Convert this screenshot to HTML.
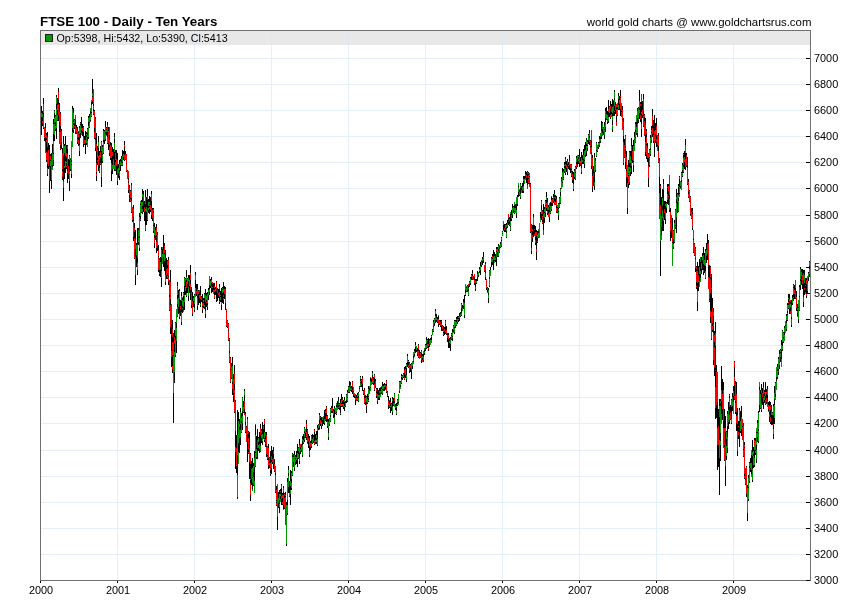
<!DOCTYPE html>
<html><head><meta charset="utf-8"><title>FTSE 100 - Daily - Ten Years</title>
<style>
html,body{margin:0;padding:0;background:#fff;}
body{width:850px;height:616px;position:relative;overflow:hidden;font-family:"Liberation Sans",Arial,sans-serif;color:#000;}
svg{position:absolute;left:0;top:0;display:block;}
.t{position:absolute;white-space:nowrap;}
#title{left:40px;top:13.6px;font-size:13.33px;font-weight:bold;line-height:15px;}
#src{right:38.6px;top:16px;font-size:11.42px;line-height:13px;}
#leg{left:56.5px;top:32px;font-size:10.7px;line-height:12px;}
.yl{position:absolute;left:814px;font-size:10.9px;line-height:14px;height:14px;}
.xl{position:absolute;top:583px;width:41px;text-align:center;font-size:10.9px;line-height:14px;}
</style></head><body>
<svg width="850" height="616" viewBox="0 0 850 616" shape-rendering="crispEdges">
<rect x="41" y="31" width="769" height="14" fill="#e8e8e8"/>
<path d="M41 554.5H806M41 528.5H806M41 502.5H806M41 476.5H806M41 450.5H806M41 423.5H806M41 397.5H806M41 371.5H806M41 345.5H806M41 319.5H806M41 293.5H806M41 267.5H806M41 241.5H806M41 215.5H806M41 188.5H806M41 162.5H806M41 136.5H806M41 110.5H806M41 84.5H806M41 58.5H806M117.5 45V580M194.5 45V580M271.5 45V580M348.5 45V580M425.5 45V580M502.5 45V580M579.5 45V580M656.5 45V580M733.5 45V580" stroke="#e3f0f9" stroke-width="1" fill="none"/>
<path d="M117.5 31V45M194.5 31V45M271.5 31V45M348.5 31V45M425.5 31V45M502.5 31V45M579.5 31V45M656.5 31V45M733.5 31V45" stroke="#e1e8ed" stroke-width="1" fill="none"/>
<path d="M41.5 106V113M41.5 117V135M42.5 111V114M42.5 117V121M42.5 123V126M43.5 98V104M43.5 113V117M43.5 128V129M44.5 138V141M45.5 123V128M45.5 137V142M46.5 133V135M46.5 138V140M46.5 142V152M46.5 160V162M47.5 132V137M47.5 147V153M47.5 164V168M47.5 174V176M48.5 143V150M48.5 166V169M49.5 145V167M49.5 181V193M50.5 154V156M50.5 160V161M50.5 166V181M51.5 153V159M51.5 180V189M52.5 144V153M52.5 165V167M53.5 119V124M53.5 134V141M53.5 153V154M53.5 160V166M54.5 110V111M54.5 113V118M54.5 123V124M54.5 135V141M55.5 115V116M55.5 122V126M55.5 129V131M56.5 95V97M56.5 104V109M56.5 128V139M57.5 98V105M57.5 110V115M57.5 120V121M58.5 88V92M58.5 100V104M58.5 115V121M59.5 103V112M59.5 122V132M60.5 112V114M60.5 126V130M60.5 131V132M60.5 145V148M60.5 149V150M61.5 129V131M61.5 142V149M62.5 148V153M62.5 169V171M62.5 177V180M63.5 136V144M63.5 156V181M63.5 188V201M64.5 144V146M64.5 153V166M64.5 168V179M65.5 136V145M65.5 156V161M65.5 167V173M66.5 145V153M66.5 157V162M66.5 163V166M66.5 167V169M67.5 145V146M67.5 149V154M67.5 166V171M67.5 173V183M68.5 159V166M68.5 174V179M69.5 155V156M69.5 160V172M69.5 181V191M70.5 159V160M70.5 169V171M71.5 160V162M71.5 164V165M71.5 174V178M72.5 106V109M72.5 128V132M73.5 108V113M73.5 120V122M73.5 123V125M73.5 130V133M74.5 119V120M74.5 123V126M74.5 127V129M75.5 120V126M75.5 132V134M76.5 125V128M76.5 133V134M77.5 127V131M77.5 138V139M77.5 142V144M78.5 132V133M78.5 137V140M78.5 144V146M79.5 126V128M79.5 134V145M79.5 151V156M80.5 122V123M80.5 124V125M80.5 133V138M81.5 117V128M81.5 130V133M82.5 124V128M82.5 131V136M83.5 126V127M83.5 132V137M83.5 144V147M84.5 136V140M84.5 144V145M85.5 131V140M85.5 143V154M86.5 132V134M86.5 135V137M86.5 143V145M87.5 128V129M87.5 133V135M87.5 137V141M88.5 116V118M88.5 122V126M88.5 137V139M89.5 114V117M89.5 122V123M89.5 127V128M90.5 111V114M90.5 120V121M91.5 102V105M91.5 112V113M91.5 116V117M92.5 79V93M92.5 96V97M92.5 101V104M93.5 104V106M93.5 109V111M93.5 114V115M94.5 110V111M94.5 128V132M94.5 138V139M95.5 117V119M95.5 138V140M95.5 148V151M96.5 133V144M96.5 151V163M96.5 172V174M96.5 176V181M97.5 146V150M97.5 158V160M97.5 162V165M98.5 136V142M98.5 148V156M98.5 165V171M99.5 151V155M99.5 157V158M99.5 161V168M99.5 172V173M100.5 146V152M100.5 157V163M100.5 164V165M101.5 141V142M101.5 151V163M101.5 177V187M102.5 145V147M102.5 154V155M102.5 161V163M103.5 129V131M103.5 140V142M103.5 153V154M104.5 130V131M104.5 140V144M105.5 121V127M105.5 132V134M105.5 139V141M106.5 127V128M106.5 129V130M106.5 132V135M107.5 122V125M107.5 132V137M107.5 143V144M108.5 127V131M108.5 141V142M108.5 143V150M109.5 135V140M109.5 145V147M109.5 153V156M110.5 142V145M110.5 158V160M111.5 143V147M111.5 158V163M111.5 171V181M112.5 147V152M112.5 156V165M112.5 169V174M113.5 149V159M114.5 133V137M114.5 139V143M114.5 152V165M114.5 169V171M115.5 150V153M115.5 160V162M115.5 170V171M116.5 150V159M116.5 166V175M117.5 153V160M117.5 164V169M117.5 181V185M118.5 164V168M118.5 173V178M119.5 160V164M119.5 170V172M119.5 176V180M120.5 159V161M120.5 165V171M121.5 156V159M121.5 160V163M121.5 165V166M122.5 150V156M122.5 162V163M122.5 165V166M123.5 151V154M123.5 157V160M124.5 141V145M124.5 147V155M124.5 160V161M125.5 151V154M125.5 159V160M126.5 163V164M126.5 171V172M127.5 170V171M128.5 178V180M128.5 181V183M128.5 190V193M129.5 185V188M129.5 195V198M129.5 199V202M130.5 190V191M130.5 198V199M130.5 201V202M131.5 183V185M131.5 198V201M131.5 212V213M132.5 220V222M133.5 205V209M133.5 217V221M133.5 237V241M134.5 223V228M134.5 232V238M134.5 258V259M135.5 230V240M135.5 249V257M135.5 275V285M136.5 243V245M136.5 255V267M137.5 228V244M137.5 258V263M137.5 270V275M138.5 228V230M138.5 237V238M138.5 242V245M139.5 213V217M139.5 236V238M139.5 248V251M140.5 204V205M140.5 216V219M140.5 220V221M141.5 200V202M141.5 212V213M142.5 189V194M142.5 197V202M142.5 206V209M142.5 212V214M143.5 191V195M143.5 202V212M144.5 201V207M144.5 212V221M145.5 190V197M145.5 204V209M145.5 211V225M145.5 230V231M146.5 197V207M146.5 212V225M147.5 189V196M147.5 200V211M147.5 220V221M148.5 199V202M148.5 206V208M148.5 210V213M149.5 196V202M149.5 204V205M149.5 206V207M149.5 209V214M150.5 197V205M150.5 210V212M151.5 191V194M151.5 201V208M151.5 215V219M152.5 208V210M152.5 218V221M153.5 208V209M153.5 211V213M153.5 225V226M153.5 231V233M154.5 223V227M154.5 235V238M154.5 243V248M155.5 227V230M155.5 236V240M156.5 224V228M156.5 235V237M156.5 238V242M156.5 248V253M157.5 232V235M157.5 246V251M158.5 245V250M158.5 256V257M158.5 270V272M159.5 258V260M159.5 270V273M159.5 274V276M160.5 257V262M160.5 270V277M161.5 247V250M161.5 258V271M161.5 278V287M162.5 249V254M163.5 235V250M163.5 257V267M164.5 243V246M164.5 253V254M164.5 261V271M165.5 250V258M165.5 259V275M165.5 282V285M166.5 258V269M166.5 275V279M167.5 260V261M167.5 265V268M167.5 273V276M167.5 278V279M168.5 257V260M168.5 276V277M168.5 281V285M169.5 295V297M169.5 310V311M170.5 270V282M170.5 299V305M170.5 327V334M171.5 324V334M171.5 335V351M171.5 357V367M172.5 320V329M172.5 337V342M172.5 355V366M172.5 369V373M173.5 333V343M173.5 355V356M173.5 393V423M174.5 330V337M174.5 343V352M174.5 372V383M175.5 322V323M175.5 336V340M175.5 355V357M176.5 323V328M176.5 341V353M177.5 282V286M177.5 295V299M177.5 304V307M177.5 316V317M178.5 290V298M178.5 307V314M179.5 289V291M179.5 299V313M179.5 317V319M180.5 300V306M180.5 309V316M181.5 292V296M181.5 301V312M181.5 322V325M182.5 298V300M182.5 306V308M182.5 309V313M183.5 292V293M183.5 296V301M183.5 307V310M184.5 277V278M184.5 286V295M184.5 302V310M185.5 278V279M185.5 281V287M185.5 291V295M186.5 270V277M186.5 280V282M186.5 288V293M186.5 296V297M187.5 278V279M187.5 284V293M188.5 275V278M188.5 281V287M188.5 296V301M189.5 275V280M189.5 286V293M190.5 265V273M190.5 280V284M190.5 290V300M191.5 287V292M191.5 305V308M192.5 292V301M192.5 314V316M193.5 296V298M193.5 301V307M194.5 294V295M194.5 304V308M194.5 310V312M195.5 272V275M195.5 280V288M196.5 284V291M196.5 293V296M197.5 284V289M197.5 296V298M197.5 306V310M198.5 290V291M198.5 294V305M199.5 292V295M199.5 298V303M200.5 286V295M200.5 299V304M200.5 305V307M201.5 296V297M201.5 300V302M202.5 294V303M202.5 306V307M202.5 310V313M203.5 298V300M203.5 302V303M203.5 306V308M204.5 293V294M204.5 298V305M204.5 307V309M205.5 289V295M205.5 302V311M205.5 314V318M206.5 293V296M206.5 300V302M206.5 303V307M207.5 292V294M207.5 303V305M207.5 307V310M208.5 288V290M208.5 295V300M209.5 285V289M209.5 292V295M210.5 279V281M210.5 286V288M211.5 277V280M211.5 283V286M211.5 288V293M212.5 284V287M212.5 288V292M213.5 283V290M214.5 283V286M214.5 288V290M214.5 292V295M214.5 298V299M215.5 287V289M215.5 291V295M216.5 281V282M216.5 289V299M216.5 300V302M217.5 288V290M217.5 293V301M218.5 289V293M218.5 295V298M219.5 284V287M219.5 289V292M219.5 297V301M219.5 302V304M220.5 291V295M220.5 296V297M220.5 300V302M221.5 288V302M221.5 305V310M222.5 287V288M222.5 289V290M222.5 293V303M223.5 282V289M223.5 292V295M223.5 297V298M223.5 300V304M224.5 286V289M224.5 294V299M225.5 287V289M225.5 303V310M226.5 311V312M226.5 326V327M227.5 320V321M227.5 327V328M228.5 323V324M228.5 330V331M228.5 340V341M229.5 338V339M229.5 340V341M229.5 351V353M229.5 362V363M230.5 357V358M230.5 369V370M230.5 382V383M231.5 363V367M231.5 378V379M232.5 357V366M232.5 382V384M232.5 389V395M233.5 374V379M233.5 393V395M233.5 396V402M234.5 365V374M234.5 384V390M234.5 412V413M235.5 400V402M235.5 431V447M235.5 452V469M236.5 435V448M236.5 466V473M237.5 410V435M237.5 455V475M237.5 497V499M238.5 412V421M238.5 443V452M239.5 419V424M239.5 427V430M239.5 438V453M240.5 408V412M240.5 424V430M240.5 437V445M241.5 413V418M241.5 421V423M241.5 432V433M242.5 397V398M242.5 411V416M242.5 423V430M243.5 401V407M243.5 412V413M244.5 389V391M244.5 395V401M244.5 409V413M245.5 412V414M245.5 422V425M245.5 432V433M246.5 426V427M247.5 417V419M247.5 434V462M248.5 431V432M248.5 433V438M248.5 449V452M248.5 453V454M249.5 432V443M249.5 444V448M249.5 462V479M250.5 453V454M250.5 464V479M250.5 480V483M250.5 495V501M251.5 461V469M251.5 479V485M252.5 458V468M252.5 477V478M252.5 483V489M253.5 463V466M253.5 472V477M253.5 485V486M254.5 451V458M254.5 467V481M255.5 425V435M255.5 452V453M255.5 466V467M256.5 436V449M256.5 457V459M257.5 429V440M257.5 448V459M258.5 437V438M258.5 442V445M258.5 448V451M259.5 432V444M259.5 449V453M260.5 424V428M260.5 435V446M260.5 451V452M261.5 429V431M261.5 433V435M261.5 438V443M262.5 422V434M262.5 441V445M263.5 425V426M263.5 429V439M264.5 419V420M264.5 424V432M264.5 438V439M264.5 440V442M265.5 432V433M265.5 436V439M265.5 442V443M265.5 444V447M266.5 432V435M266.5 446V447M266.5 454V457M267.5 455V456M267.5 459V460M268.5 444V448M268.5 458V460M268.5 465V469M269.5 457V458M269.5 461V463M269.5 465V468M270.5 451V463M270.5 470V473M270.5 474V476M271.5 446V456M271.5 460V462M271.5 468V474M272.5 450V459M272.5 462V464M273.5 447V451M273.5 454V458M273.5 464V469M274.5 459V464M274.5 471V472M275.5 473V475M275.5 492V493M276.5 486V490M276.5 500V501M276.5 502V503M276.5 505V506M277.5 517V530M278.5 492V498M278.5 503V508M279.5 490V494M279.5 500V504M279.5 507V513M280.5 489V491M280.5 492V494M280.5 496V499M281.5 484V485M281.5 488V496M281.5 499V505M282.5 493V495M282.5 498V502M282.5 504V505M283.5 486V488M283.5 492V495M283.5 505V509M284.5 493V494M284.5 495V498M284.5 508V509M285.5 492V495M285.5 496V497M286.5 502V505M286.5 515V516M286.5 544V546M287.5 478V482M287.5 500V505M287.5 513V515M288.5 466V470M288.5 473V476M288.5 487V493M289.5 481V493M289.5 496V497M290.5 470V481M290.5 486V490M290.5 494V505M291.5 471V473M291.5 479V483M291.5 488V490M292.5 453V454M292.5 455V457M292.5 475V476M293.5 454V457M293.5 462V467M294.5 451V455M294.5 468V471M295.5 455V457M295.5 458V459M295.5 462V465M296.5 451V457M296.5 460V464M297.5 444V453M297.5 458V467M298.5 447V448M298.5 451V454M298.5 458V459M299.5 439V445M299.5 453V458M299.5 461V464M300.5 447V449M300.5 451V454M301.5 444V447M301.5 450V452M302.5 436V439M302.5 441V445M302.5 455V457M303.5 434V440M303.5 443V444M304.5 427V428M304.5 431V433M304.5 437V438M304.5 440V442M305.5 433V438M306.5 420V424M306.5 427V432M306.5 437V440M307.5 429V430M307.5 432V435M307.5 442V443M308.5 434V438M308.5 441V448M309.5 436V441M309.5 446V451M309.5 455V457M310.5 441V443M310.5 447V450M311.5 435V436M311.5 440V443M311.5 446V448M312.5 434V439M312.5 443V444M313.5 435V437M313.5 441V443M314.5 429V430M314.5 432V441M314.5 444V445M315.5 434V440M315.5 442V444M316.5 431V435M316.5 438V440M316.5 442V444M317.5 425V428M317.5 431V439M317.5 445V446M318.5 424V425M318.5 428V430M319.5 413V415M319.5 420V424M319.5 426V429M320.5 416V417M320.5 418V420M320.5 424V426M321.5 417V422M321.5 426V429M322.5 420V426M323.5 418V424M324.5 410V419M324.5 423V425M325.5 409V411M325.5 413V419M325.5 420V421M326.5 406V407M326.5 409V410M326.5 413V416M326.5 419V422M327.5 415V416M327.5 419V421M327.5 426V428M328.5 419V422M328.5 428V433M328.5 437V440M329.5 418V419M329.5 424V426M330.5 408V409M330.5 415V417M330.5 421V422M331.5 406V408M331.5 411V413M332.5 398V408M332.5 411V413M333.5 409V411M333.5 415V418M334.5 406V408M334.5 410V417M334.5 423V424M335.5 413V414M336.5 405V407M336.5 412V413M336.5 414V415M337.5 401V407M338.5 397V401M338.5 403V404M338.5 405V407M338.5 408V409M339.5 403V404M339.5 405V406M339.5 408V410M340.5 399V403M340.5 406V413M340.5 414V415M341.5 394V400M341.5 403V404M341.5 406V407M342.5 397V399M342.5 401V404M342.5 405V407M343.5 400V404M343.5 407V409M344.5 397V400M344.5 402V406M344.5 407V411M345.5 401V403M345.5 406V407M346.5 394V395M346.5 400V403M347.5 390V392M347.5 397V398M347.5 401V402M348.5 386V387M348.5 389V390M348.5 392V393M349.5 381V387M349.5 392V393M350.5 382V385M350.5 387V388M350.5 390V391M351.5 386V388M351.5 390V392M352.5 381V382M352.5 387V390M352.5 391V394M353.5 391V392M353.5 395V397M354.5 396V398M355.5 397V398M355.5 400V405M356.5 395V398M357.5 393V395M357.5 397V398M357.5 400V401M358.5 392V393M358.5 396V398M358.5 401V402M359.5 386V387M359.5 388V389M360.5 376V377M360.5 379V381M360.5 382V383M360.5 386V387M361.5 379V380M361.5 381V384M361.5 385V387M362.5 376V378M362.5 384V391M363.5 390V391M363.5 394V395M364.5 388V390M364.5 396V398M364.5 403V404M365.5 395V398M365.5 402V405M366.5 396V397M366.5 402V404M366.5 406V413M367.5 394V399M367.5 403V404M368.5 386V389M368.5 396V397M368.5 398V400M368.5 401V402M369.5 388V391M370.5 378V381M370.5 387V388M371.5 379V382M372.5 371V373M372.5 375V378M372.5 383V384M373.5 377V380M373.5 383V385M374.5 374V375M374.5 378V384M374.5 390V391M375.5 379V381M375.5 386V388M376.5 388V389M376.5 391V393M376.5 396V398M377.5 388V394M377.5 401V404M378.5 390V395M378.5 397V400M379.5 388V391M379.5 393V395M379.5 397V400M380.5 388V391M380.5 393V394M381.5 387V389M381.5 392V394M382.5 382V386M382.5 389V390M382.5 393V395M383.5 384V386M383.5 389V391M384.5 383V385M384.5 387V391M385.5 384V385M385.5 387V389M386.5 380V381M386.5 384V386M386.5 392V393M387.5 391V392M387.5 394V395M387.5 396V397M388.5 396V401M388.5 405V409M389.5 401V404M389.5 407V408M390.5 398V402M390.5 404V406M390.5 407V413M391.5 403V404M391.5 407V411M392.5 397V399M392.5 401V407M392.5 412V415M393.5 398V403M393.5 405V406M394.5 393V394M394.5 401V403M395.5 404V406M395.5 408V410M396.5 403V406M396.5 407V411M396.5 414V415M397.5 399V400M397.5 402V404M397.5 405V406M398.5 402V403M399.5 381V382M399.5 391V393M400.5 381V382M400.5 385V387M401.5 374V376M401.5 377V379M401.5 383V384M402.5 375V376M402.5 378V380M403.5 373V374M403.5 377V378M404.5 367V370M404.5 373V377M404.5 379V380M405.5 366V369M405.5 375V378M406.5 363V364M406.5 368V375M406.5 379V382M407.5 354V356M407.5 362V367M408.5 360V361M408.5 362V365M408.5 367V368M409.5 362V363M409.5 366V367M409.5 371V373M410.5 364V365M410.5 368V372M411.5 363V364M411.5 370V379M412.5 366V369M413.5 356V358M413.5 361V362M414.5 349V351M414.5 354V356M415.5 342V345M415.5 347V353M416.5 350V352M417.5 348V351M417.5 354V356M418.5 344V345M418.5 349V351M418.5 357V358M419.5 350V356M420.5 352V353M420.5 355V356M420.5 357V358M421.5 350V351M421.5 353V357M421.5 360V363M422.5 354V356M422.5 358V360M423.5 354V357M423.5 360V362M424.5 350V352M424.5 353V355M425.5 344V345M425.5 348V351M426.5 337V340M426.5 343V345M426.5 348V349M427.5 339V340M427.5 341V344M427.5 347V348M428.5 338V344M428.5 346V348M428.5 349V351M429.5 339V340M429.5 344V347M430.5 338V340M431.5 335V336M431.5 337V340M432.5 329V330M432.5 331V332M433.5 320V322M433.5 326V327M433.5 331V332M434.5 318V319M434.5 323V326M435.5 309V311M435.5 314V316M435.5 320V323M436.5 314V318M436.5 320V322M437.5 317V319M437.5 322V323M438.5 316V319M438.5 324V327M439.5 320V321M439.5 324V325M440.5 320V322M440.5 323V324M440.5 326V327M441.5 320V321M441.5 322V324M441.5 326V331M442.5 325V326M442.5 329V331M443.5 326V330M443.5 332V333M443.5 335V336M444.5 327V329M444.5 331V335M445.5 320V321M445.5 324V325M445.5 327V331M445.5 333V334M446.5 326V330M446.5 334V335M447.5 333V335M447.5 338V342M448.5 333V335M448.5 339V348M449.5 338V341M449.5 343V348M450.5 337V339M450.5 344V351M451.5 333V334M451.5 335V336M451.5 339V340M452.5 329V332M452.5 336V337M452.5 338V341M453.5 325V326M453.5 330V332M454.5 320V321M454.5 327V328M454.5 332V334M455.5 320V321M455.5 325V328M456.5 317V319M456.5 320V322M456.5 325V326M457.5 316V319M457.5 322V324M458.5 316V317M458.5 318V319M458.5 320V322M459.5 313V316M459.5 318V321M460.5 312V314M460.5 316V317M461.5 303V304M461.5 308V313M461.5 315V316M462.5 305V308M463.5 299V302M463.5 306V309M464.5 295V303M464.5 315V318M465.5 290V293M465.5 295V296M466.5 287V288M466.5 291V292M467.5 285V286M467.5 290V292M468.5 286V288M468.5 289V291M468.5 295V296M469.5 281V282M469.5 284V287M470.5 277V278M470.5 283V285M471.5 274V275M471.5 277V280M472.5 270V273M472.5 274V276M472.5 279V280M473.5 277V279M474.5 277V280M474.5 283V285M475.5 279V281M475.5 283V287M475.5 289V291M476.5 279V281M476.5 283V284M477.5 271V274M477.5 277V281M478.5 275V277M479.5 267V269M479.5 271V273M480.5 262V266M480.5 270V275M481.5 261V262M481.5 265V267M482.5 257V259M482.5 261V265M483.5 252V257M483.5 260V263M484.5 271V272M485.5 262V264M485.5 270V273M485.5 277V280M486.5 285V286M486.5 288V290M487.5 287V288M487.5 290V292M488.5 288V290M488.5 293V295M488.5 298V303M489.5 270V271M489.5 277V279M489.5 286V287M490.5 267V270M491.5 257V258M491.5 262V267M492.5 254V256M492.5 258V259M492.5 262V265M493.5 250V257M493.5 260V270M494.5 252V256M494.5 260V261M495.5 254V258M495.5 260V262M496.5 247V249M496.5 251V252M496.5 257V266M497.5 247V249M497.5 252V257M498.5 244V246M498.5 249V251M498.5 256V257M499.5 246V249M499.5 252V253M500.5 242V244M500.5 247V248M501.5 237V238M501.5 240V241M501.5 246V247M502.5 231V232M502.5 233V234M503.5 225V230M504.5 224V228M504.5 230V232M505.5 224V225M505.5 228V232M506.5 223V225M506.5 227V229M506.5 231V233M506.5 237V238M507.5 220V223M507.5 226V228M508.5 218V221M508.5 222V225M509.5 217V219M509.5 221V224M509.5 225V226M510.5 214V221M510.5 226V227M510.5 230V231M511.5 210V215M511.5 219V221M512.5 204V208M512.5 215V218M513.5 206V207M513.5 210V213M514.5 205V208M514.5 211V212M514.5 213V214M515.5 204V208M516.5 204V210M516.5 213V218M517.5 195V197M517.5 204V206M518.5 186V187M518.5 192V197M519.5 190V192M519.5 195V196M520.5 183V184M520.5 188V194M520.5 197V199M521.5 186V190M522.5 183V187M522.5 190V193M523.5 176V179M523.5 181V186M523.5 191V193M524.5 176V179M525.5 171V174M525.5 176V178M526.5 172V175M526.5 178V183M527.5 171V172M527.5 174V185M528.5 172V173M528.5 174V175M528.5 178V179M528.5 183V184M529.5 176V177M529.5 183V184M530.5 183V184M530.5 232V233M531.5 224V225M531.5 231V232M531.5 242V248M531.5 251V254M532.5 225V229M532.5 231V235M532.5 238V242M533.5 214V217M533.5 225V237M534.5 225V229M534.5 230V234M535.5 226V232M535.5 237V240M535.5 243V245M536.5 230V232M536.5 236V249M536.5 252V260M537.5 231V235M537.5 238V241M537.5 242V243M538.5 231V233M538.5 237V238M540.5 212V218M541.5 200V201M541.5 205V210M541.5 214V220M542.5 210V211M542.5 214V216M542.5 220V222M542.5 223V224M543.5 204V214M543.5 217V230M544.5 207V209M544.5 212V213M544.5 218V223M545.5 200V201M545.5 205V206M545.5 213V217M546.5 192V197M546.5 200V203M546.5 208V211M547.5 198V202M547.5 210V211M547.5 213V215M548.5 205V207M548.5 210V213M549.5 207V212M549.5 217V222M550.5 202V206M550.5 211V212M550.5 213V214M551.5 197V200M551.5 203V206M551.5 209V211M552.5 198V199M552.5 203V206M553.5 194V197M553.5 201V203M554.5 190V194M554.5 195V197M554.5 198V201M555.5 195V197M555.5 199V202M555.5 204V205M556.5 196V199M556.5 206V208M556.5 212V213M557.5 207V208M557.5 209V211M557.5 212V213M558.5 203V204M558.5 208V209M558.5 211V212M558.5 215V220M559.5 197V198M559.5 203V204M559.5 207V208M560.5 188V189M560.5 192V196M560.5 203V204M561.5 177V179M561.5 180V181M562.5 168V172M562.5 182V183M563.5 169V171M563.5 177V178M563.5 179V180M564.5 162V165M564.5 166V168M564.5 171V173M565.5 157V159M565.5 162V164M565.5 166V169M565.5 173V175M566.5 161V165M566.5 168V172M567.5 159V161M567.5 164V167M567.5 172V175M568.5 162V165M568.5 166V169M569.5 155V161M569.5 165V170M570.5 168V173M571.5 164V165M571.5 169V170M571.5 171V172M571.5 176V177M572.5 171V174M572.5 180V183M573.5 172V184M573.5 189V191M574.5 169V171M574.5 177V179M575.5 166V167M575.5 172V173M575.5 179V180M576.5 156V158M576.5 162V164M576.5 167V169M577.5 159V167M578.5 155V156M578.5 157V159M578.5 161V164M579.5 149V157M579.5 163V167M580.5 157V161M580.5 165V166M581.5 152V158M581.5 163V168M581.5 172V174M582.5 155V160M582.5 162V164M583.5 149V155M583.5 159V164M584.5 145V151M584.5 160V161M584.5 164V168M585.5 142V150M585.5 155V157M586.5 138V140M586.5 144V146M586.5 151V156M587.5 140V142M587.5 145V146M587.5 148V151M588.5 134V135M588.5 140V144M589.5 130V133M589.5 136V138M589.5 142V145M590.5 140V141M590.5 146V147M591.5 141V147M591.5 152V154M591.5 166V169M592.5 155V158M592.5 169V176M592.5 187V192M593.5 166V173M593.5 177V186M594.5 153V157M594.5 172V182M594.5 186V190M595.5 158V161M595.5 170V172M596.5 142V143M596.5 150V151M596.5 156V157M597.5 147V148M597.5 151V152M598.5 142V143M598.5 145V146M598.5 147V149M599.5 136V139M599.5 142V143M599.5 145V147M600.5 137V139M600.5 141V143M601.5 121V131M601.5 136V139M602.5 122V123M602.5 129V133M603.5 127V128M603.5 132V135M604.5 122V126M604.5 129V130M604.5 135V139M605.5 108V111M605.5 118V122M605.5 127V132M606.5 107V114M606.5 119V120M607.5 111V115M607.5 119V120M607.5 122V124M608.5 100V109M608.5 112V117M608.5 121V123M609.5 106V107M609.5 113V117M610.5 101V106M610.5 109V115M610.5 117V119M611.5 104V109M611.5 112V114M612.5 99V107M612.5 113V116M612.5 120V125M612.5 129V132M613.5 101V106M613.5 111V116M614.5 90V92M614.5 98V100M614.5 106V111M614.5 112V116M615.5 102V105M615.5 110V114M616.5 107V109M616.5 116V122M617.5 107V109M617.5 115V116M618.5 93V96M618.5 99V105M618.5 109V110M619.5 96V100M619.5 104V110M620.5 90V96M620.5 97V98M620.5 109V116M621.5 111V112M622.5 106V110M622.5 119V120M623.5 118V122M623.5 127V128M623.5 136V142M623.5 163V165M624.5 139V145M624.5 157V158M625.5 135V136M625.5 146V148M625.5 149V154M625.5 162V169M626.5 151V157M626.5 169V171M626.5 177V187M627.5 177V183M627.5 208V214M628.5 160V167M628.5 173V174M628.5 175V176M628.5 184V188M629.5 151V152M629.5 163V167M629.5 169V171M629.5 182V185M630.5 151V156M630.5 163V168M630.5 172V176M631.5 138V146M631.5 151V161M631.5 166V174M632.5 145V151M632.5 160V163M633.5 140V146M633.5 161V162M633.5 165V172M634.5 132V137M634.5 139V140M635.5 122V124M635.5 130V132M635.5 137V138M635.5 142V143M636.5 122V127M636.5 133V135M637.5 108V111M637.5 118V124M637.5 133V137M638.5 107V108M638.5 120V123M639.5 90V101M639.5 108V110M639.5 113V119M640.5 102V104M640.5 106V115M640.5 119V122M641.5 102V112M641.5 114V124M641.5 129V137M642.5 101V110M642.5 115V118M643.5 94V99M643.5 111V116M643.5 126V127M644.5 114V115M644.5 117V121M645.5 118V125M645.5 135V142M645.5 152V156M646.5 129V131M646.5 134V137M646.5 144V145M646.5 155V159M647.5 143V148M647.5 158V162M648.5 153V154M648.5 158V166M648.5 178V187M649.5 149V150M649.5 157V158M649.5 165V167M650.5 135V138M650.5 148V150M650.5 154V156M651.5 126V130M651.5 132V133M651.5 140V143M652.5 109V116M652.5 125V128M652.5 134V137M653.5 120V135M653.5 141V143M654.5 115V131M654.5 143V157M655.5 123V130M655.5 134V137M655.5 140V143M656.5 118V126M656.5 135V139M656.5 142V147M657.5 145V146M658.5 133V136M658.5 146V151M658.5 162V163M659.5 158V161M659.5 177V193M660.5 184V186M660.5 188V205M660.5 241V276M661.5 197V216M661.5 227V235M662.5 189V198M662.5 206V210M662.5 218V231M663.5 179V184M663.5 190V217M663.5 221V231M664.5 201V209M664.5 213V220M665.5 201V204M665.5 206V212M665.5 219V224M666.5 202V203M666.5 208V213M667.5 184V187M667.5 188V194M667.5 200V204M668.5 184V186M668.5 191V196M668.5 197V205M669.5 195V199M669.5 210V212M670.5 208V212M670.5 221V222M670.5 231V241M671.5 229V238M672.5 218V229M672.5 242V243M673.5 230V231M673.5 239V244M673.5 247V249M674.5 220V223M674.5 242V243M675.5 209V210M675.5 225V226M675.5 227V229M676.5 189V197M676.5 199V203M676.5 217V233M677.5 193V194M677.5 202V213M678.5 184V186M678.5 187V195M678.5 198V201M678.5 211V212M679.5 176V177M679.5 179V187M679.5 193V194M680.5 186V188M681.5 172V173M681.5 180V182M682.5 163V165M682.5 170V173M682.5 176V177M683.5 153V154M683.5 155V158M683.5 165V167M683.5 172V173M684.5 151V157M684.5 162V169M685.5 139V145M685.5 153V159M685.5 167V170M686.5 153V155M686.5 166V167M687.5 157V168M687.5 184V185M688.5 179V182M688.5 191V194M688.5 197V198M689.5 190V191M689.5 201V202M690.5 196V197M690.5 205V206M690.5 214V215M691.5 208V212M691.5 218V219M692.5 208V211M692.5 212V214M692.5 226V227M692.5 228V230M693.5 239V240M693.5 252V253M694.5 243V244M694.5 255V256M695.5 247V249M695.5 258V259M695.5 268V272M696.5 266V267M696.5 269V271M696.5 282V286M696.5 287V289M697.5 262V271M697.5 283V291M697.5 302V311M698.5 266V275M698.5 282V291M699.5 259V267M699.5 274V281M700.5 262V271M700.5 274V278M701.5 257V263M701.5 269V274M702.5 253V256M702.5 260V270M703.5 247V255M703.5 264V270M703.5 272V275M704.5 253V260M704.5 265V273M705.5 249V251M705.5 266V271M705.5 278V279M706.5 243V250M706.5 256V263M707.5 234V244M707.5 254V260M708.5 240V243M708.5 265V277M709.5 265V278M709.5 299V300M709.5 301V302M710.5 266V267M710.5 277V279M710.5 293V311M710.5 317V323M711.5 274V288M711.5 289V312M711.5 339V340M712.5 298V308M712.5 323V326M712.5 330V332M713.5 308V312M713.5 316V324M713.5 326V333M713.5 360V365M714.5 331V335M714.5 342V347M714.5 367V376M715.5 322V333M715.5 346V370M715.5 371V387M715.5 408V419M716.5 365V372M716.5 405V418M717.5 402V428M717.5 445V470M718.5 409V426M718.5 445V467M719.5 399V406M719.5 417V440M719.5 458V495M720.5 399V401M720.5 403V406M720.5 433V441M720.5 445V461M721.5 366V390M721.5 401V414M722.5 379V394M722.5 409V420M723.5 382V390M723.5 421V428M724.5 409V428M724.5 445V447M724.5 460V461M725.5 416V428M725.5 432V444M725.5 466V486M726.5 431V432M726.5 439V446M726.5 456V460M727.5 411V414M727.5 426V437M727.5 448V453M728.5 402V410M728.5 422V429M729.5 394V395M729.5 396V398M729.5 407V415M729.5 420V424M730.5 405V412M730.5 419V420M731.5 399V400M731.5 407V419M731.5 423V424M732.5 393V397M732.5 406V411M733.5 386V391M733.5 396V402M734.5 361V362M734.5 367V377M734.5 385V396M734.5 399V400M735.5 381V384M735.5 401V403M735.5 412V414M736.5 382V394M736.5 412V416M736.5 423V431M737.5 408V415M737.5 424V431M737.5 451V456M738.5 421V426M738.5 427V432M738.5 435V439M739.5 408V410M739.5 421V447M740.5 411V421M740.5 431V433M741.5 406V417M741.5 429V436M742.5 426V427M743.5 423V426M743.5 449V450M743.5 456V457M744.5 442V445M744.5 447V448M744.5 474V476M744.5 478V479M745.5 469V470M745.5 479V480M745.5 484V485M746.5 466V467M746.5 494V497M747.5 485V488M747.5 513V521M748.5 475V478M748.5 487V488M748.5 499V501M749.5 462V463M749.5 466V468M749.5 481V483M750.5 458V463M750.5 468V472M751.5 455V463M751.5 470V474M752.5 440V452M752.5 456V469M752.5 480V482M753.5 447V451M753.5 454V456M753.5 465V468M754.5 438V440M754.5 450V458M754.5 465V467M755.5 438V441M755.5 450V451M755.5 453V455M756.5 432V433M756.5 445V450M756.5 459V463M757.5 420V423M757.5 432V433M757.5 437V442M758.5 411V413M758.5 429V431M758.5 441V443M759.5 387V390M759.5 405V412M760.5 390V394M760.5 408V409M761.5 384V390M761.5 393V403M761.5 410V412M762.5 388V393M762.5 397V405M763.5 382V387M763.5 394V398M763.5 402V409M764.5 390V392M764.5 393V396M764.5 400V403M765.5 382V392M765.5 396V400M765.5 404V405M766.5 389V392M766.5 394V398M766.5 402V404M767.5 386V389M767.5 395V401M768.5 402V405M768.5 409V411M769.5 401V406M769.5 412V414M769.5 417V422M770.5 402V405M770.5 410V417M770.5 422V424M771.5 405V411M771.5 415V425M772.5 412V413M772.5 415V424M773.5 404V406M773.5 415V424M773.5 425V429M773.5 434V439M774.5 386V393M774.5 399V405M774.5 418V424M775.5 382V383M775.5 394V397M776.5 377V381M777.5 364V367M777.5 369V371M777.5 377V379M778.5 357V359M778.5 369V371M778.5 372V375M779.5 350V354M779.5 362V363M779.5 365V369M780.5 349V350M780.5 352V353M780.5 357V362M781.5 340V345M781.5 350V359M782.5 330V331M782.5 342V346M782.5 349V351M783.5 332V333M783.5 337V339M783.5 342V343M784.5 326V328M784.5 332V335M785.5 325V326M786.5 314V316M786.5 320V323M786.5 329V331M787.5 303V305M787.5 311V313M787.5 314V315M787.5 320V321M788.5 294V298M788.5 299V302M788.5 303V305M788.5 308V309M789.5 294V299M789.5 301V304M789.5 309V314M790.5 302V304M790.5 307V311M791.5 300V306M791.5 317V319M791.5 325V327M792.5 295V298M792.5 303V305M793.5 284V285M793.5 287V288M793.5 294V297M793.5 298V301M794.5 285V290M794.5 294V299M795.5 288V293M795.5 298V299M796.5 291V297M796.5 308V311M797.5 304V308M797.5 310V311M797.5 313V316M798.5 307V308M798.5 319V323M799.5 285V287M799.5 296V297M799.5 310V311M800.5 267V269M800.5 279V281M800.5 285V290M801.5 269V272M801.5 276V279M801.5 280V285M802.5 269V275M802.5 284V289M803.5 270V273M803.5 280V297M803.5 302V307M804.5 270V275M804.5 283V288M804.5 290V295M805.5 278V285M805.5 286V292M806.5 278V280M806.5 284V294M806.5 296V298M807.5 281V283M807.5 291V294M808.5 272V273M808.5 277V281M809.5 261V262M809.5 266V269M809.5 274V277" stroke="#000" stroke-width="1" fill="none"/>
<path d="M42.5 121V123M43.5 104V113M43.5 117V128M44.5 127V138M45.5 128V137M45.5 142V153M46.5 135V138M46.5 140V142M46.5 152V160M47.5 137V147M47.5 153V164M47.5 168V174M48.5 150V166M49.5 167V181M50.5 156V160M51.5 159V169M58.5 92V100M58.5 104V115M59.5 112V122M59.5 132V144M60.5 114V126M60.5 130V131M60.5 132V145M60.5 148V149M61.5 131V142M62.5 153V169M62.5 171V177M63.5 181V188M66.5 153V157M66.5 166V167M67.5 146V149M67.5 154V166M67.5 171V173M68.5 166V174M74.5 126V127M75.5 115V120M75.5 126V132M76.5 128V133M77.5 131V138M77.5 139V142M78.5 131V132M78.5 133V137M78.5 140V144M82.5 128V131M83.5 127V132M83.5 137V144M84.5 140V144M85.5 140V143M92.5 97V101M93.5 89V104M93.5 106V109M93.5 111V114M94.5 111V128M94.5 132V138M95.5 119V138M95.5 140V148M96.5 144V151M96.5 163V172M96.5 174V176M97.5 150V158M97.5 160V162M98.5 156V165M99.5 155V157M99.5 158V161M99.5 168V172M100.5 152V157M101.5 163V177M106.5 128V129M107.5 125V132M107.5 137V143M108.5 131V141M108.5 142V143M109.5 127V135M109.5 140V145M109.5 147V153M110.5 145V158M111.5 147V158M111.5 163V171M112.5 152V156M115.5 153V160M115.5 162V170M116.5 159V166M117.5 160V164M117.5 169V181M119.5 172V176M124.5 145V147M124.5 155V160M125.5 154V159M126.5 154V163M126.5 164V171M127.5 171V179M128.5 171V178M128.5 180V181M128.5 183V190M129.5 188V195M129.5 198V199M130.5 191V198M130.5 199V201M131.5 185V198M131.5 201V212M132.5 207V220M133.5 209V217M133.5 221V237M134.5 228V232M134.5 238V258M135.5 240V249M137.5 244V258M143.5 195V202M144.5 207V212M145.5 225V230M147.5 196V200M149.5 202V204M149.5 207V209M150.5 205V210M151.5 208V215M152.5 210V218M153.5 209V211M153.5 213V225M153.5 226V231M154.5 238V243M155.5 230V236M156.5 228V235M156.5 237V238M156.5 242V248M158.5 250V256M158.5 257V270M159.5 260V270M159.5 273V274M161.5 250V258M163.5 250V257M164.5 246V253M165.5 258V259M166.5 269V275M167.5 261V265M167.5 268V273M167.5 276V278M168.5 260V276M168.5 277V281M169.5 280V295M169.5 297V310M170.5 282V299M170.5 305V327M171.5 304V324M171.5 334V335M171.5 351V357M172.5 329V337M172.5 342V355M172.5 366V369M173.5 343V355M174.5 337V343M179.5 313V317M180.5 306V309M185.5 279V281M186.5 282V288M190.5 273V280M190.5 284V290M191.5 292V305M192.5 301V314M196.5 291V293M197.5 289V296M197.5 298V306M198.5 291V294M199.5 295V298M200.5 295V299M201.5 297V300M202.5 303V306M202.5 307V310M205.5 301V302M206.5 302V303M207.5 305V307M211.5 286V288M212.5 282V284M212.5 287V288M213.5 290V294M214.5 286V288M214.5 290V292M214.5 295V298M216.5 282V289M216.5 299V300M217.5 290V293M218.5 293V295M219.5 287V289M219.5 292V297M220.5 295V296M223.5 295V297M223.5 298V300M224.5 289V294M225.5 289V303M226.5 309V311M226.5 312V326M227.5 321V327M228.5 324V330M228.5 331V340M229.5 339V340M229.5 341V351M229.5 353V362M230.5 358V369M230.5 370V382M231.5 367V378M232.5 384V389M233.5 379V393M233.5 395V396M234.5 374V384M234.5 390V412M235.5 402V431M235.5 447V452M236.5 448V466M239.5 430V438M244.5 401V409M244.5 413V415M245.5 414V422M245.5 425V432M246.5 427V442M247.5 419V434M248.5 432V433M248.5 438V449M248.5 452V453M249.5 443V444M249.5 448V462M250.5 454V464M250.5 479V480M250.5 483V495M251.5 469V479M257.5 440V448M260.5 428V435M261.5 432V433M264.5 420V424M264.5 439V440M265.5 433V436M265.5 439V442M265.5 443V444M266.5 435V446M266.5 447V454M267.5 446V455M267.5 456V459M268.5 448V458M268.5 460V465M269.5 458V461M269.5 463V465M270.5 463V470M271.5 456V460M272.5 459V462M273.5 451V454M273.5 458V464M274.5 464V471M275.5 466V473M275.5 475V492M276.5 490V500M276.5 501V502M276.5 503V505M277.5 484V517M281.5 496V499M282.5 495V498M282.5 502V504M283.5 488V492M283.5 495V505M283.5 509V510M284.5 494V495M284.5 498V508M285.5 497V525M295.5 459V462M300.5 444V447M306.5 424V427M306.5 432V437M307.5 430V432M307.5 435V442M307.5 443V444M308.5 438V441M309.5 451V455M310.5 443V447M311.5 436V440M313.5 437V441M314.5 430V432M314.5 441V444M320.5 420V424M325.5 411V413M326.5 407V409M326.5 410V413M326.5 416V419M327.5 416V419M327.5 421V426M332.5 408V411M333.5 411V415M338.5 407V408M339.5 404V405M339.5 406V408M340.5 403V406M342.5 399V401M342.5 404V405M351.5 388V390M352.5 382V387M352.5 390V391M353.5 387V391M353.5 392V395M354.5 393V396M355.5 394V397M355.5 398V400M356.5 398V401M361.5 384V385M362.5 378V384M363.5 391V394M364.5 390V396M364.5 398V403M365.5 398V402M366.5 404V406M369.5 391V394M372.5 378V381M373.5 380V383M374.5 375V378M374.5 384V390M375.5 381V386M376.5 389V391M376.5 393V396M377.5 394V401M379.5 391V393M385.5 385V387M385.5 389V390M386.5 381V384M386.5 386V392M387.5 392V394M387.5 395V396M388.5 401V405M389.5 400V401M389.5 404V407M390.5 402V404M391.5 404V407M393.5 403V405M394.5 397V401M395.5 406V408M404.5 370V373M404.5 377V379M408.5 365V367M409.5 363V366M409.5 367V371M410.5 365V368M417.5 351V354M418.5 345V349M418.5 351V357M420.5 353V355M420.5 356V357M422.5 360V362M427.5 344V347M428.5 344V346M428.5 348V349M429.5 340V344M437.5 319V322M438.5 315V316M438.5 319V324M439.5 321V324M440.5 322V323M440.5 324V326M441.5 321V322M441.5 324V326M442.5 326V329M443.5 330V332M443.5 333V335M444.5 329V331M445.5 325V327M445.5 331V333M446.5 330V334M447.5 335V338M448.5 335V339M468.5 284V286M472.5 273V274M472.5 276V279M473.5 276V277M473.5 279V280M474.5 274V277M474.5 280V283M475.5 281V283M475.5 287V289M483.5 257V260M484.5 265V271M485.5 264V270M485.5 273V277M486.5 279V285M486.5 286V288M487.5 288V290M487.5 292V293M492.5 256V258M496.5 249V251M504.5 228V230M505.5 225V228M508.5 214V218M525.5 174V176M526.5 175V178M527.5 172V174M527.5 185V189M528.5 173V174M528.5 175V178M528.5 179V183M529.5 173V176M529.5 177V183M529.5 184V187M530.5 184V232M531.5 225V231M531.5 232V242M531.5 248V251M532.5 229V231M532.5 235V238M534.5 229V230M534.5 234V236M535.5 232V237M535.5 240V243M536.5 232V236M536.5 249V252M542.5 211V214M542.5 216V220M542.5 222V223M543.5 214V217M543.5 230V235M546.5 203V208M547.5 202V210M547.5 211V213M548.5 213V217M549.5 203V207M552.5 199V203M553.5 197V201M554.5 201V205M555.5 197V199M555.5 202V204M556.5 199V206M556.5 208V212M557.5 208V209M557.5 211V212M565.5 159V162M566.5 165V168M567.5 161V164M569.5 161V165M570.5 164V168M571.5 165V169M571.5 170V171M571.5 172V176M572.5 174V180M576.5 164V167M579.5 157V163M580.5 161V165M589.5 133V136M589.5 138V142M590.5 141V146M590.5 147V154M591.5 130V141M591.5 147V152M591.5 154V166M592.5 158V169M592.5 176V187M593.5 173V177M607.5 120V122M608.5 109V112M610.5 106V109M610.5 115V117M611.5 109V112M611.5 114V117M613.5 100V101M613.5 106V111M615.5 105V110M616.5 104V107M616.5 109V116M616.5 122V126M617.5 103V107M620.5 96V97M620.5 98V109M621.5 103V111M621.5 112V117M622.5 110V119M622.5 120V130M623.5 122V127M623.5 128V136M623.5 142V163M624.5 145V157M625.5 136V146M625.5 148V149M625.5 154V162M626.5 157V169M626.5 171V177M628.5 176V184M632.5 151V160M640.5 104V106M640.5 115V119M641.5 94V102M641.5 112V114M641.5 124V129M642.5 110V115M643.5 99V111M643.5 116V126M644.5 115V117M644.5 121V136M645.5 125V135M645.5 142V152M646.5 131V134M646.5 137V144M646.5 145V155M647.5 148V158M648.5 154V158M648.5 166V178M652.5 116V125M652.5 128V134M653.5 135V141M654.5 131V143M655.5 137V140M656.5 126V135M656.5 139V142M657.5 135V145M657.5 146V151M658.5 136V146M658.5 151V162M659.5 161V177M659.5 193V219M660.5 186V188M660.5 205V214M661.5 216V227M663.5 184V190M664.5 209V213M668.5 186V191M668.5 196V197M669.5 175V195M669.5 199V210M670.5 212V221M670.5 222V231M671.5 215V229M672.5 229V242M684.5 159V162M685.5 145V153M685.5 159V167M686.5 155V166M687.5 168V184M688.5 182V191M688.5 194V197M689.5 191V201M690.5 197V205M690.5 206V214M690.5 215V216M691.5 212V218M692.5 211V212M692.5 214V226M692.5 227V228M693.5 230V239M693.5 240V252M694.5 244V255M695.5 249V258M695.5 259V268M696.5 267V269M696.5 271V282M696.5 286V287M697.5 271V283M698.5 275V282M703.5 255V264M703.5 270V272M706.5 255V256M707.5 244V254M708.5 243V265M708.5 277V289M709.5 278V299M709.5 300V301M710.5 267V277M710.5 279V293M710.5 311V317M711.5 288V289M711.5 312V339M712.5 308V323M712.5 326V330M713.5 312V316M713.5 324V326M713.5 333V360M714.5 335V342M714.5 347V367M715.5 333V346M715.5 370V371M715.5 387V408M716.5 372V405M717.5 372V402M717.5 428V445M718.5 426V445M719.5 406V417M722.5 394V409M723.5 390V421M723.5 428V448M724.5 428V445M724.5 447V460M725.5 444V466M729.5 398V407M730.5 412V419M734.5 362V367M734.5 377V385M734.5 396V399M735.5 384V401M735.5 403V412M736.5 394V412M736.5 416V423M737.5 415V424M737.5 431V451M738.5 426V427M738.5 432V435M742.5 419V426M742.5 427V440M743.5 426V449M743.5 450V456M744.5 445V447M744.5 448V474M744.5 476V478M745.5 468V469M745.5 470V479M745.5 480V484M746.5 467V494M754.5 440V445M761.5 390V393M762.5 393V397M764.5 392V393M765.5 400V404M766.5 392V394M766.5 398V402M767.5 389V395M767.5 401V407M768.5 405V409M768.5 411V412M769.5 414V417M770.5 405V410M770.5 417V422M771.5 411V415M772.5 424V425M788.5 302V303M789.5 304V309M790.5 300V302M790.5 311V314M791.5 306V310M791.5 319V325M794.5 290V294M795.5 280V288M795.5 293V298M796.5 297V308M797.5 308V310M797.5 311V313M797.5 316V317M802.5 275V284M803.5 273V280M803.5 297V302M804.5 288V290M805.5 285V286M806.5 280V284M806.5 294V296" stroke="#f00" stroke-width="1" fill="none"/>
<path d="M41.5 113V117M42.5 114V117M50.5 161V166M51.5 169V180M52.5 153V165M52.5 167V170M53.5 124V134M53.5 141V153M53.5 154V160M54.5 111V113M54.5 118V123M54.5 124V135M55.5 116V122M55.5 126V129M56.5 97V104M56.5 109V128M57.5 105V110M57.5 115V120M63.5 144V156M64.5 146V153M64.5 166V168M65.5 145V156M65.5 161V167M66.5 162V163M69.5 156V160M69.5 172V181M70.5 158V159M70.5 160V169M71.5 141V160M71.5 162V164M71.5 165V174M72.5 109V128M72.5 132V147M73.5 113V120M73.5 122V123M73.5 125V130M74.5 120V123M79.5 128V134M79.5 145V151M80.5 123V124M80.5 125V133M81.5 128V130M81.5 133V135M86.5 134V135M86.5 137V143M87.5 129V133M87.5 135V137M87.5 141V147M88.5 118V122M88.5 126V137M89.5 117V122M89.5 123V127M90.5 108V111M90.5 114V120M90.5 121V122M91.5 100V102M91.5 105V112M91.5 113V116M92.5 93V96M98.5 142V148M100.5 163V164M101.5 142V151M102.5 147V154M102.5 155V161M103.5 131V140M103.5 142V153M104.5 131V140M105.5 127V132M105.5 134V139M106.5 130V132M106.5 135V136M112.5 165V169M113.5 159V169M114.5 137V139M114.5 143V152M114.5 165V169M118.5 168V173M119.5 164V170M120.5 161V165M121.5 159V160M121.5 163V165M122.5 156V162M122.5 163V165M123.5 154V157M135.5 257V275M136.5 245V255M137.5 263V270M138.5 230V237M138.5 238V242M139.5 217V236M139.5 238V248M140.5 201V204M140.5 205V216M140.5 219V220M141.5 202V212M142.5 194V197M142.5 202V206M142.5 209V212M145.5 197V204M145.5 209V211M146.5 207V212M147.5 211V220M148.5 202V206M148.5 208V210M149.5 205V206M151.5 194V201M154.5 227V235M157.5 235V246M160.5 262V270M161.5 271V278M162.5 247V249M162.5 254V264M164.5 254V261M165.5 275V282M173.5 356V393M174.5 352V372M175.5 323V336M175.5 340V355M176.5 309V323M176.5 328V341M177.5 286V295M177.5 299V304M177.5 307V316M178.5 298V307M179.5 291V299M181.5 296V301M181.5 312V322M182.5 297V298M182.5 300V306M182.5 308V309M183.5 293V296M183.5 301V307M183.5 310V312M184.5 278V286M184.5 295V302M185.5 287V291M186.5 277V280M186.5 293V296M187.5 279V284M188.5 278V281M188.5 287V296M189.5 280V286M193.5 298V301M194.5 295V304M194.5 308V310M195.5 275V280M195.5 288V297M199.5 290V292M200.5 304V305M203.5 300V302M203.5 303V306M204.5 294V298M204.5 305V307M205.5 295V301M205.5 311V314M206.5 296V300M207.5 294V303M208.5 290V295M209.5 276V285M209.5 289V292M210.5 281V286M211.5 280V283M215.5 289V291M219.5 301V302M220.5 297V300M221.5 302V305M222.5 288V289M222.5 290V293M223.5 289V292M232.5 366V382M237.5 435V455M237.5 475V497M238.5 421V443M238.5 452V464M239.5 424V427M240.5 412V424M240.5 430V437M241.5 418V421M241.5 423V432M242.5 398V411M242.5 416V423M243.5 407V412M244.5 391V395M252.5 468V477M252.5 478V483M252.5 489V491M253.5 466V472M253.5 477V485M254.5 458V467M254.5 481V493M255.5 424V425M255.5 435V452M255.5 453V466M256.5 449V457M258.5 438V442M258.5 445V448M259.5 444V449M260.5 446V451M261.5 431V432M261.5 435V438M262.5 434V441M263.5 426V429M264.5 432V438M270.5 473V474M271.5 462V468M278.5 498V503M279.5 494V500M279.5 504V507M280.5 491V492M280.5 494V496M280.5 499V502M281.5 485V488M285.5 495V496M286.5 505V515M286.5 516V544M287.5 482V500M287.5 505V513M288.5 470V473M288.5 476V487M289.5 493V496M290.5 481V486M290.5 490V494M291.5 473V479M291.5 483V488M292.5 454V455M292.5 457V475M293.5 457V462M294.5 455V468M295.5 457V458M296.5 457V460M297.5 453V458M298.5 448V451M298.5 454V458M299.5 445V453M299.5 458V461M300.5 449V451M301.5 447V450M302.5 439V441M302.5 445V455M303.5 440V443M304.5 428V431M304.5 433V437M304.5 438V440M305.5 429V433M309.5 441V446M311.5 443V446M312.5 439V443M315.5 440V442M316.5 435V438M316.5 440V442M317.5 428V431M317.5 439V445M318.5 425V428M319.5 415V420M319.5 424V426M319.5 429V430M320.5 417V418M321.5 422V426M322.5 417V420M323.5 416V418M324.5 419V423M325.5 419V420M328.5 422V428M328.5 433V437M329.5 419V424M330.5 409V415M330.5 417V421M331.5 408V411M334.5 408V410M334.5 417V423M335.5 408V413M336.5 403V405M336.5 407V412M336.5 413V414M337.5 407V410M338.5 401V403M338.5 404V405M340.5 413V414M341.5 400V403M341.5 404V406M343.5 404V407M344.5 400V402M344.5 406V407M345.5 403V406M346.5 395V400M347.5 392V397M347.5 398V401M348.5 387V389M348.5 390V392M349.5 387V392M350.5 385V387M350.5 388V390M357.5 395V397M357.5 398V400M358.5 393V396M358.5 398V401M359.5 387V388M359.5 389V392M360.5 377V379M360.5 381V382M360.5 383V386M361.5 380V381M366.5 397V402M367.5 399V403M368.5 389V396M368.5 397V398M368.5 400V401M369.5 386V388M370.5 377V378M370.5 381V387M370.5 388V391M371.5 378V379M371.5 382V385M372.5 373V375M372.5 381V383M378.5 395V397M379.5 395V397M380.5 387V388M380.5 391V393M380.5 394V397M381.5 386V387M381.5 389V392M382.5 386V389M382.5 390V393M383.5 386V389M384.5 385V387M390.5 406V407M392.5 399V401M392.5 407V412M394.5 394V397M394.5 403V407M396.5 406V407M396.5 411V414M397.5 400V402M397.5 404V405M398.5 394V402M398.5 403V405M399.5 382V391M400.5 382V385M400.5 387V389M401.5 376V377M401.5 379V383M402.5 376V378M403.5 374V377M405.5 369V375M406.5 364V368M406.5 375V379M407.5 356V362M408.5 361V362M411.5 364V370M412.5 361V366M413.5 352V356M413.5 358V361M413.5 362V364M414.5 351V354M414.5 356V357M415.5 345V347M416.5 346V350M419.5 356V359M421.5 351V353M421.5 357V360M422.5 356V358M423.5 351V354M423.5 357V360M424.5 348V350M424.5 352V353M425.5 345V348M426.5 340V343M426.5 345V348M427.5 340V341M430.5 340V345M431.5 336V337M431.5 340V343M432.5 330V331M432.5 332V335M433.5 322V326M433.5 327V331M434.5 319V323M435.5 311V314M435.5 316V320M436.5 318V320M445.5 321V324M449.5 341V343M450.5 339V344M451.5 334V335M451.5 336V339M452.5 332V336M452.5 337V338M453.5 326V330M453.5 332V333M454.5 321V327M454.5 328V332M455.5 321V325M456.5 319V320M456.5 322V325M457.5 319V322M458.5 317V318M458.5 319V320M459.5 316V318M460.5 314V316M461.5 304V308M461.5 313V315M462.5 308V311M463.5 302V306M464.5 303V315M465.5 284V290M465.5 293V295M466.5 286V287M466.5 288V291M467.5 286V290M468.5 288V289M468.5 291V295M469.5 282V284M470.5 278V283M471.5 275V277M476.5 281V283M477.5 274V277M478.5 272V275M479.5 269V271M480.5 266V270M481.5 260V261M481.5 262V265M482.5 259V261M488.5 290V293M488.5 295V298M489.5 271V277M489.5 279V286M490.5 270V276M491.5 258V262M492.5 259V262M493.5 257V260M494.5 256V260M494.5 261V263M495.5 258V260M496.5 252V257M497.5 249V252M498.5 246V249M498.5 251V256M499.5 245V246M499.5 249V252M500.5 244V247M501.5 238V240M501.5 241V246M502.5 232V233M502.5 234V236M503.5 221V225M503.5 230V231M506.5 225V227M506.5 229V231M506.5 233V237M507.5 223V226M508.5 221V222M509.5 219V221M509.5 224V225M510.5 212V214M510.5 221V226M510.5 227V230M511.5 215V219M512.5 208V215M513.5 207V210M514.5 202V205M514.5 208V211M514.5 212V213M515.5 208V213M516.5 197V204M516.5 210V213M517.5 197V204M518.5 183V186M518.5 187V192M519.5 189V190M519.5 192V195M520.5 184V188M520.5 194V197M521.5 190V193M522.5 187V190M523.5 179V181M523.5 186V191M524.5 179V184M525.5 178V180M533.5 217V225M537.5 235V238M537.5 241V242M538.5 229V231M538.5 233V237M539.5 223V238M540.5 218V222M541.5 201V205M541.5 210V214M544.5 209V212M544.5 213V218M545.5 201V205M545.5 206V213M546.5 197V200M548.5 207V210M549.5 212V217M550.5 206V211M550.5 212V213M551.5 196V197M551.5 200V203M551.5 206V209M554.5 194V195M554.5 197V198M557.5 205V207M558.5 204V208M558.5 209V211M558.5 212V215M559.5 198V203M559.5 204V207M560.5 189V192M560.5 196V203M561.5 179V180M561.5 181V189M562.5 172V182M562.5 183V187M563.5 171V177M563.5 178V179M564.5 165V166M564.5 168V171M565.5 164V166M565.5 169V173M567.5 167V172M568.5 165V166M573.5 184V189M574.5 171V177M575.5 167V172M575.5 173V179M576.5 158V162M577.5 155V159M578.5 156V157M578.5 159V161M581.5 158V163M581.5 168V172M582.5 160V162M583.5 155V159M584.5 151V160M584.5 161V164M585.5 150V155M586.5 140V144M586.5 146V151M587.5 142V145M587.5 146V148M588.5 135V140M594.5 157V172M594.5 182V186M595.5 161V170M596.5 143V150M596.5 151V156M597.5 145V147M597.5 148V151M598.5 143V145M598.5 146V147M599.5 139V142M599.5 143V145M600.5 133V137M600.5 139V141M601.5 131V136M602.5 123V129M602.5 133V136M603.5 128V132M604.5 126V129M604.5 130V135M605.5 111V118M605.5 122V127M606.5 114V119M607.5 115V119M608.5 117V121M609.5 107V113M612.5 107V113M612.5 116V120M612.5 125V129M614.5 92V98M614.5 100V106M614.5 111V112M617.5 109V115M618.5 96V99M618.5 105V109M619.5 100V104M627.5 165V177M627.5 183V208M628.5 167V173M628.5 174V175M629.5 152V163M629.5 167V169M629.5 171V182M630.5 156V163M630.5 168V172M631.5 146V151M631.5 161V166M633.5 146V161M633.5 162V165M634.5 137V139M634.5 140V151M635.5 124V130M635.5 132V137M635.5 138V142M636.5 115V122M636.5 127V133M637.5 111V118M637.5 124V133M638.5 108V120M639.5 101V108M639.5 110V113M649.5 150V157M649.5 158V165M650.5 138V148M650.5 150V154M651.5 130V132M651.5 133V140M655.5 130V134M660.5 214V241M661.5 235V240M662.5 198V206M662.5 210V218M663.5 217V221M665.5 204V206M665.5 212V219M666.5 203V208M667.5 187V188M667.5 194V200M672.5 243V266M673.5 231V239M673.5 244V247M674.5 223V242M675.5 210V225M675.5 226V227M676.5 197V199M676.5 203V217M677.5 194V202M678.5 186V187M678.5 195V198M678.5 201V211M679.5 177V179M679.5 187V193M679.5 194V197M680.5 181V186M680.5 188V189M681.5 173V180M681.5 182V190M682.5 165V170M682.5 173V176M683.5 154V155M683.5 158V165M683.5 167V172M684.5 157V159M697.5 291V302M699.5 267V274M699.5 281V287M700.5 257V262M700.5 271V274M700.5 278V282M701.5 263V269M702.5 256V260M704.5 260V265M705.5 251V266M705.5 271V278M706.5 250V255M719.5 440V458M720.5 401V403M720.5 406V433M720.5 441V445M721.5 390V401M721.5 414V424M725.5 428V432M726.5 432V439M726.5 446V456M727.5 414V426M727.5 437V448M728.5 410V422M729.5 395V396M729.5 415V420M731.5 400V407M731.5 419V423M732.5 397V406M733.5 391V396M733.5 402V414M739.5 410V421M740.5 421V431M741.5 417V429M747.5 488V513M748.5 478V487M748.5 488V499M749.5 463V466M749.5 468V481M750.5 463V468M751.5 450V455M751.5 463V470M751.5 474V477M752.5 452V456M752.5 469V480M753.5 451V454M753.5 456V465M754.5 445V450M754.5 458V465M755.5 441V450M755.5 451V453M756.5 428V432M756.5 433V445M756.5 450V459M757.5 423V432M757.5 433V437M758.5 413V429M758.5 431V441M759.5 382V387M759.5 390V405M760.5 394V408M761.5 403V410M763.5 387V394M763.5 398V402M764.5 396V400M765.5 392V396M769.5 406V412M772.5 413V415M773.5 406V415M773.5 424V425M773.5 429V434M774.5 393V399M774.5 405V418M775.5 383V394M775.5 397V400M776.5 367V377M776.5 381V390M777.5 367V369M777.5 371V377M778.5 359V369M778.5 371V372M779.5 354V362M779.5 363V365M780.5 350V352M780.5 353V357M781.5 345V350M781.5 359V367M782.5 331V342M782.5 346V349M783.5 333V337M783.5 339V342M784.5 328V332M784.5 335V341M785.5 321V325M785.5 326V333M786.5 316V320M786.5 323V329M787.5 305V311M787.5 313V314M787.5 315V320M788.5 298V299M788.5 305V308M789.5 299V301M790.5 304V307M791.5 310V317M792.5 298V303M793.5 285V287M793.5 288V294M793.5 297V298M798.5 300V307M798.5 308V319M799.5 287V296M799.5 297V310M800.5 269V279M800.5 281V285M801.5 272V276M801.5 279V280M804.5 275V283M805.5 292V294M807.5 276V281M807.5 283V291M808.5 273V277M809.5 262V266M809.5 269V274" stroke="#090" stroke-width="1" fill="none"/>
<path d="M40.5 30V581M40 30.5H811M810.5 30V581M40 580.5H811" stroke="#707070" stroke-width="1" fill="none"/>
<path d="M806 580.5H810M806 554.5H810M806 528.5H810M806 502.5H810M806 476.5H810M806 450.5H810M806 423.5H810M806 397.5H810M806 371.5H810M806 345.5H810M806 319.5H810M806 293.5H810M806 267.5H810M806 241.5H810M806 215.5H810M806 188.5H810M806 162.5H810M806 136.5H810M806 110.5H810M806 84.5H810M806 58.5H810M40.5 581V583M117.5 581V583M194.5 581V583M271.5 581V583M348.5 581V583M425.5 581V583M502.5 581V583M579.5 581V583M656.5 581V583M733.5 581V583" stroke="#000" stroke-width="1" fill="none"/>
<rect x="45.5" y="34.5" width="7" height="7" fill="#090" stroke="#222" stroke-width="1"/>
</svg>
<div class="t" id="title">FTSE 100 - Daily - Ten Years</div>
<div class="t" id="src">world gold charts @ www.goldchartsrus.com</div>
<div class="t" id="leg">Op:5398, Hi:5432, Lo:5390, Cl:5413</div>
<div class="yl" style="top:573px">3000</div><div class="yl" style="top:547px">3200</div><div class="yl" style="top:521px">3400</div><div class="yl" style="top:495px">3600</div><div class="yl" style="top:469px">3800</div><div class="yl" style="top:443px">4000</div><div class="yl" style="top:416px">4200</div><div class="yl" style="top:390px">4400</div><div class="yl" style="top:364px">4600</div><div class="yl" style="top:338px">4800</div><div class="yl" style="top:312px">5000</div><div class="yl" style="top:286px">5200</div><div class="yl" style="top:260px">5400</div><div class="yl" style="top:234px">5600</div><div class="yl" style="top:208px">5800</div><div class="yl" style="top:181px">6000</div><div class="yl" style="top:155px">6200</div><div class="yl" style="top:129px">6400</div><div class="yl" style="top:103px">6600</div><div class="yl" style="top:77px">6800</div><div class="yl" style="top:51px">7000</div><div class="xl" style="left:20.5px">2000</div><div class="xl" style="left:97.5px">2001</div><div class="xl" style="left:174.5px">2002</div><div class="xl" style="left:251.5px">2003</div><div class="xl" style="left:328.5px">2004</div><div class="xl" style="left:405.5px">2005</div><div class="xl" style="left:482.5px">2006</div><div class="xl" style="left:559.5px">2007</div><div class="xl" style="left:636.5px">2008</div><div class="xl" style="left:713.5px">2009</div>
</body></html>
